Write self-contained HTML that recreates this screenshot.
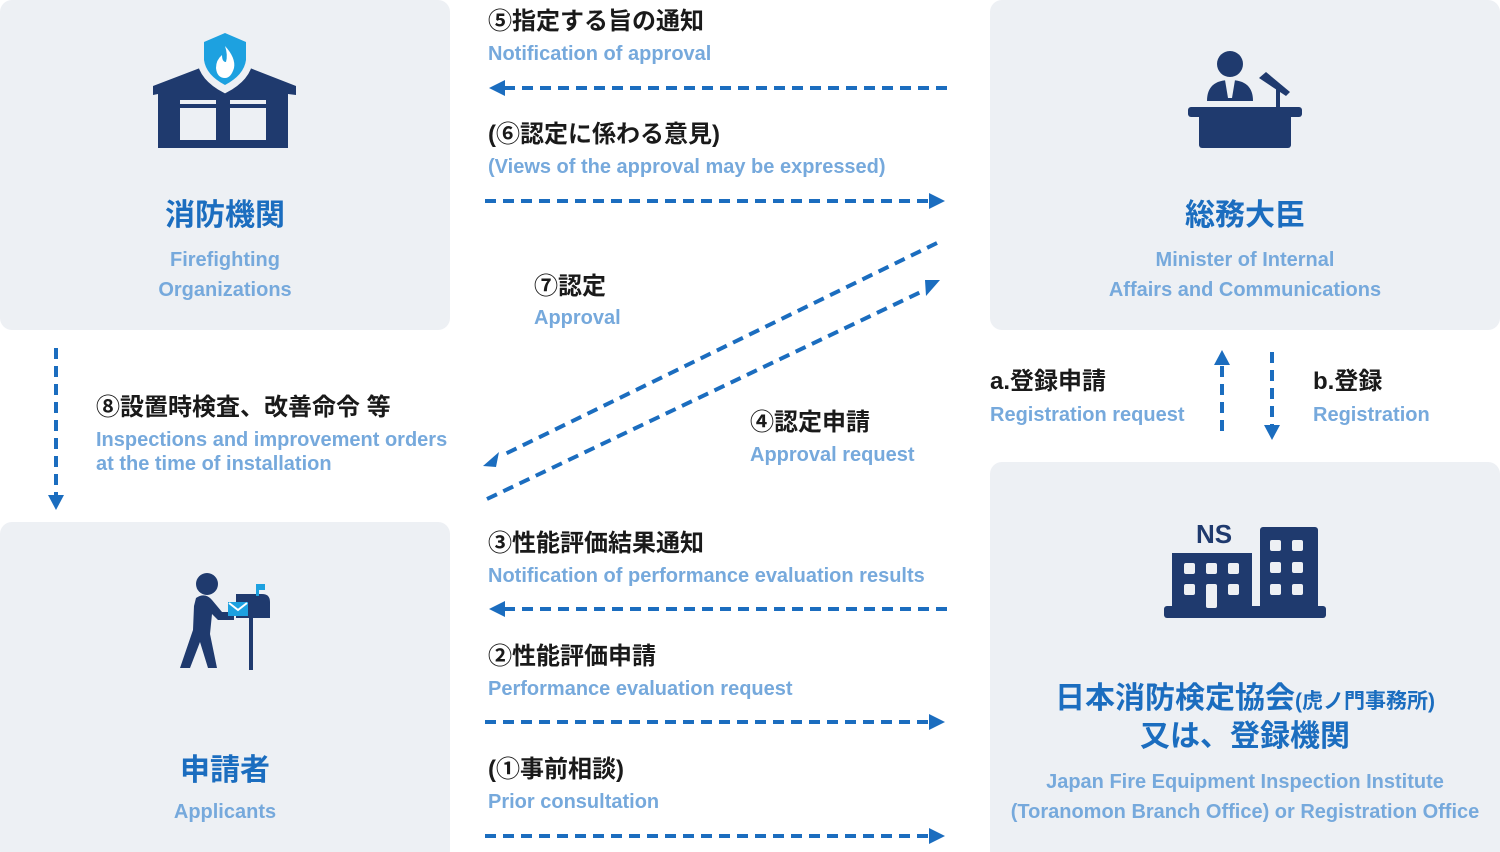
<!DOCTYPE html>
<html><head><meta charset="utf-8"><style>
html,body{margin:0;padding:0;background:#fff;width:1500px;height:852px;overflow:hidden}
svg{display:block}
.jp{font-family:"Liberation Sans","Noto Sans CJK JP",sans-serif;font-weight:bold;fill:#1a1a1a;font-size:24px}
.en{font-family:"Liberation Sans","Noto Sans CJK JP",sans-serif;font-weight:bold;fill:#76a9dc;font-size:20px}
.tt{font-family:"Liberation Sans","Noto Sans CJK JP",sans-serif;font-weight:bold;fill:#1b6dbf;font-size:30px}
.d{stroke:#1b6dbf;stroke-width:4;stroke-dasharray:11 7;fill:none}
.a{fill:#1b6dbf}
.ic{fill:#1f3a6e}
</style></head><body>
<svg width="1500" height="852" viewBox="0 0 1500 852">
<rect x="0" y="0" width="450" height="330" rx="12" fill="#edf0f4"/>
<rect x="990" y="0" width="510" height="330" rx="12" fill="#edf0f4"/>
<rect x="0" y="522" width="450" height="340" rx="12" fill="#edf0f4"/>
<rect x="990" y="462" width="510" height="400" rx="12" fill="#edf0f4"/>

<g class="ic">
<path d="M153 86 L200 68 L250 68 L296 86 L296 95 L288 94 L288 148 L158 148 L158 94 L153 95 Z"/>
</g>
<rect x="180" y="100" width="36" height="4" fill="#edf0f4"/>
<rect x="230" y="100" width="36" height="4" fill="#edf0f4"/>
<rect x="180" y="108" width="36" height="32" fill="#edf0f4"/>
<rect x="230" y="108" width="36" height="32" fill="#edf0f4"/>
<path d="M200 40 L225 30 L250 40 L250 60 Q248 78 225 90 Q202 78 200 60 Z" fill="#edf0f4" stroke="#edf0f4" stroke-width="6"/>
<path d="M204 42 L225 33 L246 42 L246 60 Q244 75 225 85 Q206 75 204 60 Z" fill="#1da1e0"/>
<path d="M225 46 Q236 58 234 68 Q231 78 225 78 Q217 78 216 68 Q216 60 222 55 Q222 62 226 62 Q228 55 225 46Z" fill="#fff"/>

<text class="tt" x="225" y="225" text-anchor="middle">消防機関</text>
<text class="en" x="225" y="266" text-anchor="middle">Firefighting</text>
<text class="en" x="225" y="296" text-anchor="middle">Organizations</text>

<circle cx="1230" cy="64" r="13" class="ic"/>
<path d="M1207 101 Q1207 80 1230 80 Q1253 80 1253 101 Z" class="ic"/>
<path d="M1225 80 L1235 80 L1232 98 L1228 98 Z" fill="#edf0f4"/>
<rect x="1188" y="107" width="114" height="10" rx="3" class="ic"/>
<rect x="1199" y="112" width="92" height="36" rx="3" class="ic"/>
<rect x="1276" y="88" width="4" height="22" class="ic"/>
<path d="M1259 78 L1266 72 L1290 92 L1286 96 Z" class="ic"/>
<text class="tt" x="1245" y="225" text-anchor="middle">総務大臣</text>
<text class="en" x="1245" y="266" text-anchor="middle">Minister of Internal</text>
<text class="en" x="1245" y="296" text-anchor="middle">Affairs and Communications</text>

<circle cx="207" cy="584" r="11" class="ic"/>
<path d="M196 598 Q205 592 212 600 L222 612 L234 612 L234 620 L218 620 L212 614 L210 634 L217 668 L208 668 L200 642 L190 668 L180 668 L193 630 L194 606 Z" class="ic"/>
<path d="M236 594 L262 594 Q270 594 270 602 L270 618 L236 618 Z" class="ic"/>
<rect x="249" y="616" width="4" height="54" class="ic"/>
<rect x="256" y="584" width="3" height="12" fill="#1da1e0"/>
<rect x="256" y="584" width="9" height="6" fill="#1da1e0"/>
<rect x="228" y="602" width="20" height="14" fill="#1da1e0"/>
<path d="M229 603 L238 610 L247 603" stroke="#fff" stroke-width="2" fill="none"/>
<text class="tt" x="225" y="780" text-anchor="middle">申請者</text>
<text class="en" x="225" y="818" text-anchor="middle">Applicants</text>

<text x="1214" y="543" text-anchor="middle" font-family="Liberation Sans,sans-serif" font-weight="bold" font-size="26" fill="#1f3a6e">NS</text>
<rect x="1172" y="553" width="80" height="56" class="ic"/>
<rect x="1260" y="527" width="58" height="82" rx="3" class="ic"/>
<rect x="1164" y="606" width="162" height="12" rx="3" class="ic"/>
<g fill="#edf0f4">
<rect x="1184" y="563" width="11" height="11" rx="2"/><rect x="1206" y="563" width="11" height="11" rx="2"/><rect x="1228" y="563" width="11" height="11" rx="2"/>
<rect x="1184" y="584" width="11" height="11" rx="2"/><rect x="1206" y="584" width="11" height="24" rx="2"/><rect x="1228" y="584" width="11" height="11" rx="2"/>
<rect x="1270" y="540" width="11" height="11" rx="2"/><rect x="1292" y="540" width="11" height="11" rx="2"/>
<rect x="1270" y="562" width="11" height="11" rx="2"/><rect x="1292" y="562" width="11" height="11" rx="2"/>
<rect x="1270" y="584" width="11" height="11" rx="2"/><rect x="1292" y="584" width="11" height="11" rx="2"/>
</g>
<text class="tt" x="1245" y="708" text-anchor="middle">日本消防検定協会<tspan font-size="21">(虎ノ門事務所)</tspan></text>
<text class="tt" x="1245" y="746" text-anchor="middle">又は、登録機関</text>
<text class="en" x="1245" y="788" text-anchor="middle">Japan Fire Equipment Inspection Institute</text>
<text class="en" x="1245" y="818" text-anchor="middle">(Toranomon Branch Office) or Registration Office</text>

<text class="jp" x="488" y="29">⑤指定する旨の通知</text>
<text class="en" x="488" y="60">Notification of approval</text>
<line class="d" x1="504" y1="88" x2="948" y2="88"/>
<path class="a" d="M489 88 L505 80 L505 96 Z"/>

<text class="jp" x="488" y="142">(⑥認定に係わる意見)</text>
<text class="en" x="488" y="173">(Views of the approval may be expressed)</text>
<line class="d" x1="485" y1="201" x2="930" y2="201"/>
<path class="a" d="M945 201 L929 193 L929 209 Z"/>

<text class="jp" x="534" y="294">⑦認定</text>
<text class="en" x="534" y="324">Approval</text>
<line class="d" x1="937" y1="243" x2="503" y2="455"/>
<path class="a" d="M483 466 L499 452 L496 467 Z"/>
<line class="d" x1="487" y1="499" x2="925" y2="290"/>
<path class="a" d="M940 280 L926 296 L925 280 Z"/>
<text class="jp" x="750" y="430">④認定申請</text>
<text class="en" x="750" y="461">Approval request</text>

<text class="jp" x="488" y="551">③性能評価結果通知</text>
<text class="en" x="488" y="582">Notification of performance evaluation results</text>
<line class="d" x1="504" y1="609" x2="948" y2="609"/>
<path class="a" d="M489 609 L505 601 L505 617 Z"/>

<text class="jp" x="488" y="664">②性能評価申請</text>
<text class="en" x="488" y="695">Performance evaluation request</text>
<line class="d" x1="485" y1="722" x2="930" y2="722"/>
<path class="a" d="M945 722 L929 714 L929 730 Z"/>

<text class="jp" x="488" y="777">(①事前相談)</text>
<text class="en" x="488" y="808">Prior consultation</text>
<line class="d" x1="485" y1="836" x2="930" y2="836"/>
<path class="a" d="M945 836 L929 828 L929 844 Z"/>

<line class="d" x1="56" y1="348" x2="56" y2="496"/>
<path class="a" d="M56 510 L48 495 L64 495 Z"/>
<text class="jp" x="96" y="415">⑧設置時検査、改善命令 等</text>
<text class="en" x="96" y="446">Inspections and improvement orders</text>
<text class="en" x="96" y="470">at the time of installation</text>

<line class="d" x1="1222" y1="366" x2="1222" y2="438"/>
<path class="a" d="M1222 350 L1214 365 L1230 365 Z"/>
<line class="d" x1="1272" y1="352" x2="1272" y2="426"/>
<path class="a" d="M1272 440 L1264 425 L1280 425 Z"/>
<text class="jp" x="990" y="389">a.登録申請</text>
<text class="en" x="990" y="421">Registration request</text>
<text class="jp" x="1313" y="389">b.登録</text>
<text class="en" x="1313" y="421">Registration</text>
</svg>
</body></html>
